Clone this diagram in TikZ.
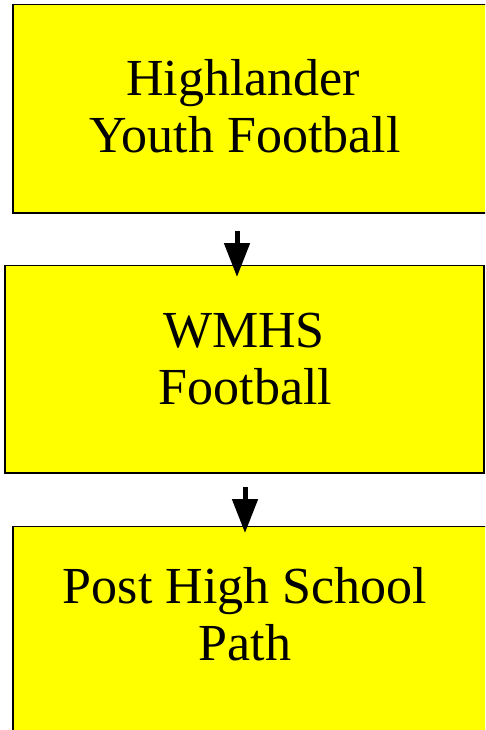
\documentclass[tikz,border=0pt]{standalone}
\usepackage{fontspec}
\setmainfont{Liberation Serif}
\usetikzlibrary{arrows.meta}
\definecolor{boxyellow}{RGB}{255,255,0}
\tikzset{
  box/.style={draw=black, line width=1.4pt, fill=boxyellow, inner sep=0pt, outer sep=0pt},
  label/.style={anchor=base, inner sep=0pt, font=\fontsize{52}{57}\selectfont},
  flow/.style={line width=5pt, -{Triangle[length=34pt,width=25pt]}}
}
\begin{document}
\begin{tikzpicture}[x=1pt,y=-1pt]
\useasboundingbox (0,0) rectangle (485,730);
\clip (0,0) rectangle (485,730);
\node[box, minimum width=484pt, minimum height=208.5pt] (b1) at (255,108.75) {};
\node[box, minimum width=479pt, minimum height=207.5pt] (b2) at (244.5,369.25) {};
\node[box, minimum width=484pt, minimum height=208.5pt] (b3) at (255,630.75) {};
\node[label] (t1a) at (243,96) {Highlander};
\node[label] (t1b) at (245,153) {Youth Football};
\node[label] (t2a) at (244,347) {WMHS};
\node[label] (t2b) at (245.5,404) {Football};
\node[label] (t3a) at (245,603) {Post High School};
\node[label] (t3b) at (245,660) {Path};
\coordinate (a1s) at (237,230.5);
\coordinate (a1e) at (237,277);
\coordinate (a2s) at (245,487);
\coordinate (a2e) at (245,533);
\draw[flow] (a1s) -- (a1e);
\draw[flow] (a2s) -- (a2e);
\end{tikzpicture}
\end{document}
